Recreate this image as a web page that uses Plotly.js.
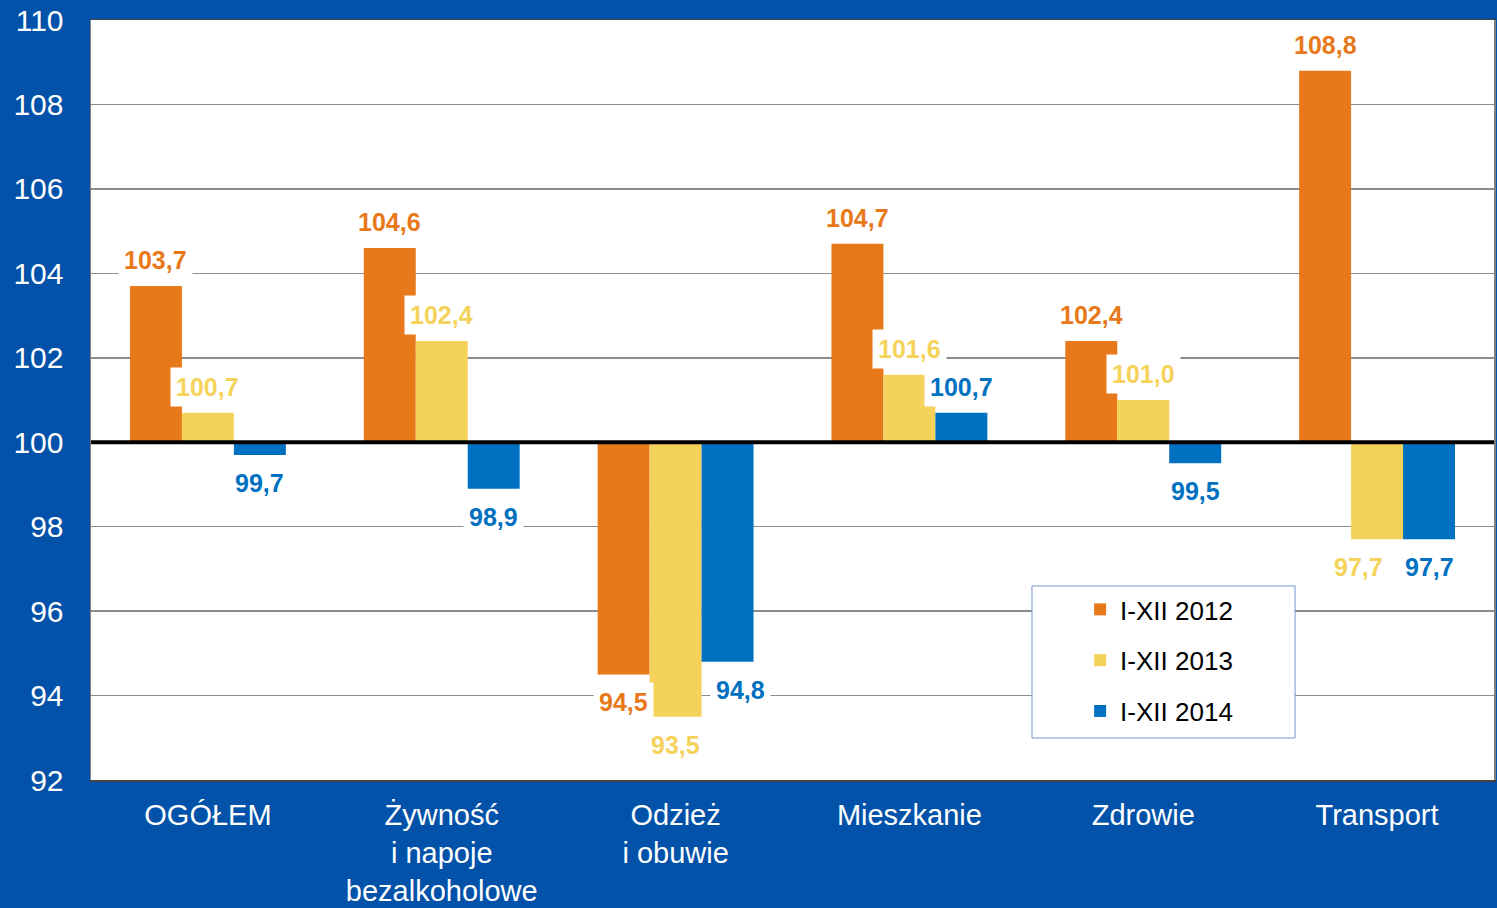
<!DOCTYPE html>
<html>
<head>
<meta charset="utf-8">
<script src="https://cdn.plot.ly/plotly-3.0.1.min.js"></script>
<style>
  html, body { margin: 0; padding: 0; background: #0352A9; }
  #chart { width: 1497px; height: 908px; }
</style>
</head>
<body>
<div id="chart"></div>
<script>
// Chart data
const categories = ['OGÓŁEM', 'Żywność<br>i napoje<br>bezalkoholowe', 'Odzież<br>i obuwie', 'Mieszkanie', 'Zdrowie', 'Transport'];
const seriesNames = ['I-XII 2012', 'I-XII 2013', 'I-XII 2014'];
const values2012 = [103.7, 104.6, 94.5, 104.7, 102.4, 108.8];
const values2013 = [100.7, 102.4, 93.5, 101.6, 101.0, 97.7];
const values2014 = [99.7, 98.9, 94.8, 100.7, 99.5, 97.7];
const baseValue = 100;

const colors = ['#E8791A', '#F5D35B', '#0070C0'];
const allValues = [values2012, values2013, values2014];
const barOffsets = [-2 / 9, 0, 2 / 9];

// small nudges for labels that sit off-centre in the original
const labelShift = { '1-5': -19, '2-2': 13 };

const fmt = v => v.toFixed(1).replace('.', ',');

const traces = allValues.map((vals, s) => ({
    x: categories,
    y: vals.map(v => v - baseValue),
    base: baseValue,
    type: 'bar',
    name: seriesNames[s],
    legendgroup: 'g' + s,
    marker: { color: colors[s], line: { width: 0 } },
    hoverinfo: 'skip'
}));

const annotations = [];
allValues.forEach((vals, s) => {
    vals.forEach((v, i) => {
        const up = v >= baseValue;
        annotations.push({
            x: i + barOffsets[s],
            y: v,
            xref: 'x',
            yref: 'y',
            text: '<b>' + fmt(v) + '</b>',
            showarrow: false,
            xanchor: 'center',
            yanchor: 'middle',
            yshift: up ? 26 : -28,
            xshift: labelShift[s + '-' + i] || 0,
            bgcolor: 'white',
            borderpad: 5,
            font: { family: 'Arial, Liberation Sans', size: 25, color: colors[s] }
        });
    });
});

const layout = {
    width: 1497,
    height: 908,
    paper_bgcolor: '#0352A9',
    plot_bgcolor: 'white',
    margin: { l: 91, r: 3, t: 20, b: 128 },
    barmode: 'group',
    bargap: 1 / 3,
    bargroupgap: 0,
    font: { family: 'Arial, Liberation Sans', color: 'white' },
    xaxis: {
        type: 'category',
        tickfont: { size: 29, color: 'white' },
        showgrid: false,
        showline: true,
        linecolor: '#444444',
        linewidth: 1.5,
        mirror: true,
        ticks: '',
        ticklabelstandoff: 9,
        fixedrange: true
    },
    yaxis: {
        range: [92, 110],
        dtick: 2,
        tick0: 92,
        tickfont: { size: 30, color: 'white' },
        gridcolor: '#8C8C8C',
        gridwidth: 1.5,
        showline: true,
        linecolor: '#808080',
        linewidth: 1.5,
        mirror: true,
        zeroline: false,
        ticks: '',
        ticklabelstandoff: 20,
        fixedrange: true
    },
    shapes: [
        {
            type: 'line', xref: 'paper', yref: 'y',
            x0: 0, x1: 1, y0: baseValue, y1: baseValue,
            line: { color: 'black', width: 4 },
            layer: 'above'
        },
        {
            type: 'rect', xref: 'paper', yref: 'paper',
            x0: 0.6707, x1: 0.8582, y0: 0.0553, y1: 0.2553,
            fillcolor: 'white',
            line: { color: '#7396CC', width: 1 },
            layer: 'above'
        }
    ],
    showlegend: true,
    legend: {
        x: 0.705, y: 0.2553,
        xanchor: 'left', yanchor: 'top',
        bgcolor: 'rgba(0,0,0,0)',
        borderwidth: 0,
        traceorder: 'grouped',
        tracegroupgap: 14,
        font: { family: 'Arial, Liberation Sans', size: 26, color: 'black' }
    },
    annotations: annotations
};

Plotly.newPlot('chart', traces, layout, { displayModeBar: false, staticPlot: true });
</script>
</body>
</html>
